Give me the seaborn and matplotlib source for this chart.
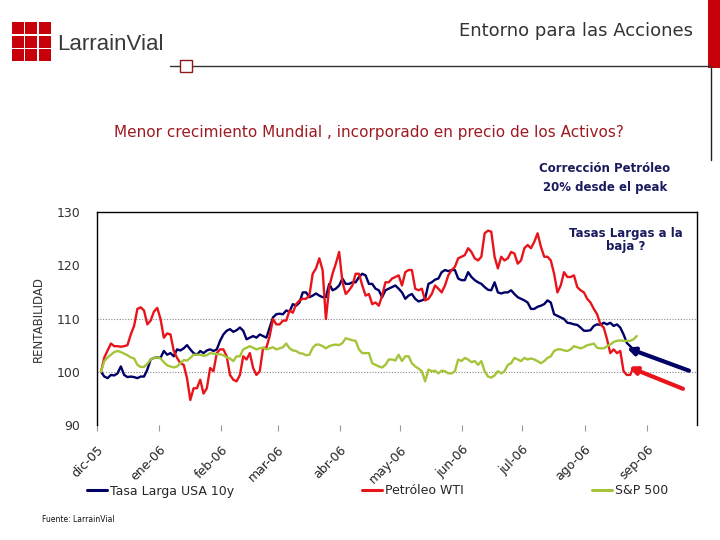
import numpy as np
import pandas as pd
import matplotlib
matplotlib.use("Agg")
import matplotlib.pyplot as plt
from matplotlib.patches import Rectangle
from matplotlib.lines import Line2D
import seaborn as sns

# ---------------- data ----------------
series_names = ["Tasa Larga USA 10y", "Petróleo WTI", "S&P 500"]

tasa_larga = [
    100.0, 99.1, 98.8, 99.4, 99.3, 99.7, 101.0, 99.4, 99.0, 99.1,
    99.0, 98.8, 99.1, 99.1, 100.4, 102.3, 102.6, 102.7, 102.6, 103.9,
    103.2, 103.5, 102.9, 104.2, 104.0, 104.4, 105.0, 104.2, 103.5, 103.2,
    103.9, 103.5, 104.0, 104.2, 103.9, 104.2, 105.8, 107.0, 107.7, 108.0,
    107.5, 107.8, 108.3, 107.7, 106.1, 106.4, 106.7, 106.4, 107.0, 106.7,
    106.4, 108.3, 110.2, 110.8, 110.9, 110.8, 111.5, 111.3, 112.7, 112.4,
    113.0, 114.9, 114.9, 114.0, 114.3, 114.7, 114.3, 114.0, 114.0, 116.5,
    115.3, 115.6, 116.2, 117.5, 116.5, 116.5, 116.8, 116.8, 117.8, 118.4,
    118.1,
    116.5, 116.5, 115.6, 115.3, 114.0, 115.3, 115.6, 115.9, 116.2, 115.6,
    114.9, 113.7, 114.3, 114.6, 113.7, 113.2, 113.4, 113.7, 116.5, 116.8,
    117.3, 117.5, 118.7, 119.1, 118.9, 119.1, 119.1, 117.5, 117.2, 117.2,
    118.7, 117.8, 117.2, 116.8, 116.5, 115.9, 115.4, 115.3, 116.8, 114.9,
    114.7,
    114.9, 114.9, 115.3, 114.6, 114.0, 113.7, 113.4, 113.0, 111.8, 111.8,
    112.2, 112.4, 112.7, 113.4, 113.0, 110.8, 110.5, 110.2, 109.9, 109.2,
    109.1, 108.9, 108.8, 108.3, 107.7, 107.7, 107.8, 108.6, 108.9, 108.8,
    109.2, 108.9, 109.2, 108.6, 108.9, 108.3, 107.0, 105.4, 104.8, 104.2,
    103.7,
]

petroleo_wti = [
    100.0, 102.7, 104.0, 105.3, 104.8, 104.8, 104.7, 104.8, 105.0, 107.0,
    108.6, 111.8, 112.1, 111.5, 108.9, 109.6, 111.3, 112.0, 109.9, 106.4,
    107.2, 107.0, 103.9, 102.6, 101.6, 101.3, 98.8, 94.7, 96.9, 96.9,
    98.5, 95.9, 96.9, 100.7, 100.1, 103.5, 104.2, 104.2, 102.9, 99.4,
    98.5, 98.2, 99.4, 102.9, 102.3, 103.5, 100.7, 99.4, 100.1, 104.5,
    104.5, 106.7, 109.9, 108.9, 108.9, 109.6, 109.6, 111.5, 111.1, 112.7,
    113.4, 113.7, 113.7, 114.3, 118.4, 119.4, 121.3, 119.1, 109.9, 115.9,
    118.4, 120.3, 122.5, 116.8, 114.6, 115.3, 116.2, 118.4, 118.4, 116.2,
    114.3,
    114.6, 112.7, 113.0, 112.4, 114.3, 116.8, 116.8, 117.5, 117.8, 118.1,
    116.2, 118.7, 119.1, 119.1, 115.6, 115.3, 115.6, 113.4, 113.7, 114.6,
    116.2, 115.6, 114.9, 116.2, 118.1, 119.1, 119.7, 121.3, 121.6, 121.9,
    123.2, 122.5, 121.3, 120.9, 121.6, 126.0, 126.5, 126.3, 121.6, 119.4,
    121.6,
    120.9, 121.3, 122.5, 122.2, 120.3, 120.9, 123.2, 123.8, 123.2, 124.4,
    126.0, 123.5, 121.6, 121.6, 120.9, 118.4, 114.9, 116.2, 118.7, 117.8,
    117.8, 118.1, 115.9, 115.3, 114.9, 113.7, 113.0, 111.8, 110.8, 108.9,
    108.3, 106.1, 103.5, 104.2, 103.5, 103.9, 100.1, 99.4, 99.4, 100.8,
    100.7,
]

sp500 = [
    100.0, 102.0, 102.7, 103.2, 103.7, 103.9, 103.7, 103.4, 103.1, 102.7,
    102.5, 101.3, 100.9, 100.9, 101.5, 102.3, 102.6, 102.7, 102.5, 101.8,
    101.2, 101.0, 100.8, 101.0, 101.6, 102.2, 102.1, 102.6, 103.2, 103.2,
    103.2, 103.0, 103.1, 103.5, 103.4, 103.3, 103.3, 103.1, 102.7, 102.5,
    102.0, 102.9, 102.9, 104.2, 104.5, 104.8, 104.5, 104.2, 104.4, 104.5,
    104.2, 104.4, 104.6, 104.2, 104.4, 104.6, 105.3, 104.4, 104.0, 103.9,
    103.5, 103.4, 103.1, 103.2, 104.5, 105.1, 105.1, 104.8, 104.4, 104.8,
    105.0, 105.1, 105.0, 105.4, 106.3, 106.1, 105.9, 105.8, 104.2, 103.5,
    103.5,
    103.5, 101.6, 101.3, 101.0, 100.8, 101.3, 102.3, 102.3, 102.1, 103.2,
    102.0, 102.9, 102.9, 101.6, 101.0, 100.6, 100.1, 98.2, 100.4, 100.1,
    100.2, 99.7, 100.2, 100.1, 99.7, 99.7, 100.1, 102.3, 102.0, 102.6,
    102.3, 101.8, 102.0, 101.3, 102.0, 100.1, 99.1, 98.9, 99.3, 100.1,
    99.7,
    100.1, 101.3, 101.6, 102.6, 102.3, 102.0, 102.6, 102.3, 102.5, 102.3,
    102.0, 101.6, 102.0, 102.6, 102.9, 103.9, 104.2, 104.2, 104.0, 103.9,
    104.2, 104.8, 104.6, 104.4, 104.6, 105.0, 105.1, 105.3, 104.5, 104.4,
    104.4, 104.8, 105.1, 105.6, 105.8, 105.9, 105.8, 105.8, 105.8, 106.1,
    106.7,
]

month_starts = ["2005-12-01", "2006-01-01", "2006-02-01", "2006-03-01", "2006-04-01",
                "2006-05-01", "2006-06-01", "2006-07-01", "2006-08-01", "2006-09-01"]
month_labels = ["dic-05", "ene-06", "feb-06", "mar-06", "abr-06",
                "may-06", "jun-06", "jul-06", "ago-06", "sep-06"]
y_ticks = [90, 100, 110, 120, 130]
grid_levels = [100, 110]
first_date, last_date = "2005-12-03", "2006-08-27"
x_min, x_max = "2005-12-01", "2006-09-26"

NAVY = "#000066"
RED = "#e8141b"
GREEN = "#a4c43a"
palette = dict(zip(series_names, [NAVY, RED, GREEN]))

n = len(tasa_larga)
dates = pd.date_range(first_date, last_date, periods=n)
df = pd.DataFrame({
    "fecha": np.tile(dates, 3),
    "valor": tasa_larga + petroleo_wti + sp500,
    "serie": np.repeat(series_names, n),
})

# ---------------- figure ----------------
sns.set_style("white")
plt.rcParams["font.family"] = ["DejaVu Sans"]

W, H = 720, 540
fig = plt.figure(figsize=(7.2, 5.4), dpi=100)


def fx(x):
    return x / W


def fy(y):
    return 1 - y / H


ax = fig.add_axes([fx(97), fy(425), fx(697) - fx(97), fy(212) - fy(425)])

sns.lineplot(data=df, x="fecha", y="valor", hue="serie", palette=palette,
             linewidth=1.7, legend=False, estimator=None, ax=ax)

ax.set_xlim(pd.Timestamp(x_min), pd.Timestamp(x_max))
ax.set_ylim(90, 130)
ax.set_yticks(y_ticks)
ax.set_yticklabels([str(v) for v in y_ticks], fontsize=9, color="#333333")
ax.tick_params(axis="y", length=0, pad=12)
ax.set_xticks(pd.to_datetime(month_starts))
ax.set_xticklabels(month_labels, rotation=45, ha="right", va="top",
                   rotation_mode="anchor", fontsize=9, color="#222222")
ax.tick_params(axis="x", length=4, width=0.8, color="#999999", pad=9, bottom=True)
ax.set_xlabel("")
ax.set_ylabel("RENTABILIDAD", fontsize=8.5, color="#333333", labelpad=8)

for lvl in grid_levels:
    ax.axhline(lvl, color="#888888", linestyle=(0, (1, 1.5)), linewidth=0.8, zorder=0)

for side in ["left", "right", "top"]:
    ax.spines[side].set_color("black")
    ax.spines[side].set_linewidth(1.0)
ax.spines["bottom"].set_visible(False)

# arrows
ax.annotate("", xy=(pd.Timestamp("2006-08-22"), 104.5),
            xytext=(pd.Timestamp("2006-09-22"), 100.2),
            arrowprops=dict(arrowstyle="-|>", color=NAVY, lw=3, mutation_scale=11,
                            shrinkA=0, shrinkB=0))
ax.annotate("", xy=(pd.Timestamp("2006-08-23"), 100.9),
            xytext=(pd.Timestamp("2006-09-19"), 96.8),
            arrowprops=dict(arrowstyle="-|>", color=RED, lw=3, mutation_scale=11,
                            shrinkA=0, shrinkB=0))

# annotations
fig.text(fx(605), fy(168), "Corrección Petróleo", ha="center", va="center",
         fontsize=8.5, fontweight="bold", color="#1a1a5e")
fig.text(fx(605), fy(188), "20% desde el peak", ha="center", va="center",
         fontsize=8.5, fontweight="bold", color="#1a1a5e")
fig.text(fx(626), fy(240), "Tasas Largas a la\nbaja ?", ha="center", va="center",
         fontsize=8.5, fontweight="bold", color="#1a1a5e", linespacing=1.05)

# title
fig.text(fx(114), fy(133), "Menor crecimiento Mundial , incorporado en precio de los Activos?",
         ha="left", va="center", fontsize=11, color="#9e1a22")

# legend
handles = [Line2D([], [], color=palette[s], linewidth=2.2) for s in series_names]
fig.legend(handles, series_names, loc="center left", bbox_to_anchor=(fx(87), fy(491)),
           ncol=3, frameon=False, fontsize=9, handlelength=1.6, handletextpad=0.2,
           columnspacing=10.3, borderpad=0, borderaxespad=0)

# source
fig.text(fx(42), fy(519), "Fuente: LarrainVial", ha="left", va="center", fontsize=5.5,
         color="#111111")

# header: logo
sq = 12
for i in range(3):
    for j in range(3):
        x0 = 12 + j * 13.3
        y0 = 22 + i * 13.5
        fig.add_artist(Rectangle((fx(x0), fy(y0 + sq)), sq / W, sq / H,
                                 transform=fig.transFigure, facecolor="#c8000a",
                                 edgecolor="none"))
fig.text(fx(57), fy(44), "LarrainVial", ha="left", va="center", fontsize=16,
         family=["Liberation Sans", "DejaVu Sans"], color="#3a3a3a")

fig.text(fx(693), fy(31), "Entorno para las Acciones", ha="right", va="center",
         fontsize=13, color="#333333")

fig.add_artist(Line2D([fx(170), fx(712)], [fy(66), fy(66)], transform=fig.transFigure,
                      color="#333333", linewidth=1.0))
fig.add_artist(Rectangle((fx(180), fy(72)), 12 / W, 12 / H, transform=fig.transFigure,
                         facecolor="white", edgecolor="#8b1a1a", linewidth=1.0, zorder=5))
fig.add_artist(Rectangle((fx(708), fy(68)), 12 / W, 68 / H, transform=fig.transFigure,
                         facecolor="#c8000a", edgecolor="none"))
fig.add_artist(Line2D([fx(710.5), fx(710.5)], [fy(68), fy(160)], transform=fig.transFigure,
                      color="#222222", linewidth=1.0))

fig.savefig("out.png", dpi=100)
